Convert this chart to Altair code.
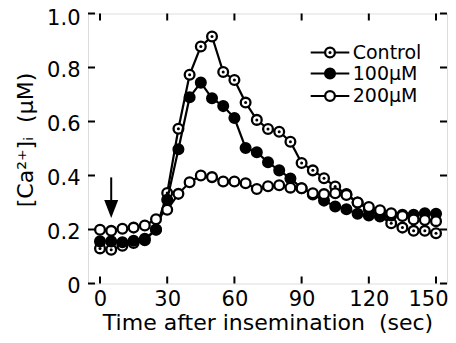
import altair as alt
import pandas as pd

# ---- data ----
time_s = list(range(0, 155, 5))
control = [0.130, 0.125, 0.140, 0.150, 0.160, 0.200, 0.335, 0.573, 0.773, 0.878,
           0.915, 0.783, 0.754, 0.670, 0.606, 0.572, 0.562, 0.525, 0.446, 0.419,
           0.390, 0.359, 0.331, 0.300, 0.275, 0.250, 0.223, 0.207, 0.195, 0.195, 0.186]
um100 = [0.156, 0.156, 0.153, 0.158, 0.166, 0.199, 0.310, 0.497, 0.690, 0.744,
         0.686, 0.657, 0.613, 0.502, 0.486, 0.449, 0.419, 0.389, 0.353, 0.330,
         0.307, 0.285, 0.275, 0.258, 0.252, 0.248, 0.252, 0.255, 0.255, 0.260, 0.258]
um200 = [0.199, 0.195, 0.203, 0.207, 0.215, 0.238, 0.273, 0.332, 0.375, 0.400,
         0.394, 0.378, 0.378, 0.371, 0.350, 0.360, 0.364, 0.355, 0.353, 0.334,
         0.331, 0.334, 0.328, 0.300, 0.283, 0.271, 0.260, 0.250, 0.237, 0.235, 0.231]
series_names = ["Control", "100\u03bcM", "200\u03bcM"]
x_ticks = [0, 30, 60, 90, 120, 150]
y_ticks = [0, 0.2, 0.4, 0.6, 0.8, 1.0]
arrow_time = [5]
arrow_top = [0.393]
arrow_shaft_end = [0.30]
arrow_head = [0.276]

FONT = "DejaVu Sans"
W, H = 359, 270

df = pd.DataFrame({"t": time_s, "control": control, "m100": um100, "m200": um200})

xs = alt.Scale(domain=[-5.36, 154.9], nice=False, zero=False)
ys = alt.Scale(domain=[0, 1], nice=False, zero=False)

xaxis = alt.Axis(values=x_ticks, ticks=False, domain=False, grid=False,
                 labelFont=FONT, labelFontSize=21, labelColor="black",
                 labelPadding=5, labelFlush=False,
                 labelOffset={"condition": {"test": "datum.value === 150", "value": -8},
                              "value": 0},
                 title="Time after insemination\u00a0 (sec)", titleFont=FONT,
                 titleFontSize=22, titleFontWeight="normal", titleColor="black",
                 titlePadding=3)
yaxis = alt.Axis(values=y_ticks, ticks=False, domain=False, grid=False,
                 labelFont=FONT, labelFontSize=21, labelColor="black",
                 labelPadding=8, labelFlush=False,
                 labelOffset={"condition": {"test": "datum.value === 1", "value": 5},
                              "value": 2.5},
                 labelExpr="datum.value == 0 ? '0' : format(datum.value, '.1f')",
                 title="[Ca\u00b2\u207a]\u1d62 \u00a0(\u03bcM)", titleFont=FONT,
                 titleFontSize=22, titleFontWeight="normal", titleColor="black",
                 titlePadding=9, titleY=126)

X = alt.X("t:Q", scale=xs, axis=xaxis)


def Y(field):
    return alt.Y(f"{field}:Q", scale=ys, axis=yaxis)


base = alt.Chart(df)
layers = []
SW = 2.3
SZ = 95


def add_series(field, fill, dot):
    layers.append(base.mark_line(color="black", strokeWidth=2.2).encode(x=X, y=Y(field)))
    layers.append(base.mark_point(shape="circle", filled=True, fill=fill, stroke="black",
                                  strokeWidth=SW, size=SZ, opacity=1).encode(x=X, y=Y(field)))
    if dot:
        layers.append(base.mark_point(shape="circle", filled=True, fill="black",
                                      strokeWidth=0, size=9, opacity=1).encode(x=X, y=Y(field)))


add_series("control", "white", True)
add_series("m100", "black", False)
add_series("m200", "white", False)

# inward ticks on all four sides
xt = alt.Chart(pd.DataFrame({"v": x_ticks}))
yt = alt.Chart(pd.DataFrame({"v": y_ticks}))
tick_style = dict(color="black", strokeWidth=2)
layers.append(xt.mark_rule(**tick_style).encode(x=alt.X("v:Q", scale=xs, axis=xaxis),
                                                 y=alt.value(H), y2=alt.value(H - 7)))
layers.append(xt.mark_rule(**tick_style).encode(x=alt.X("v:Q", scale=xs, axis=xaxis),
                                                 y=alt.value(0), y2=alt.value(7)))
layers.append(yt.mark_rule(**tick_style).encode(y=alt.Y("v:Q", scale=ys, axis=yaxis),
                                                 x=alt.value(0), x2=alt.value(7)))
layers.append(yt.mark_rule(**tick_style).encode(y=alt.Y("v:Q", scale=ys, axis=yaxis),
                                                 x=alt.value(W - 7), x2=alt.value(W)))

# arrow
adf = pd.DataFrame({"t": arrow_time, "top": arrow_top, "end": arrow_shaft_end, "head": arrow_head})
ab = alt.Chart(adf)
layers.append(ab.mark_rule(color="black", strokeWidth=2).encode(
    x=alt.X("t:Q", scale=xs, axis=xaxis), y=alt.Y("top:Q", scale=ys, axis=yaxis), y2="end:Q"))
layers.append(ab.mark_point(shape="M -1 -1.3 L 1 -1.3 L 0 1.3 Z", filled=True, fill="black",
                            strokeWidth=0, size=196, opacity=1).encode(
    x=alt.X("t:Q", scale=xs, axis=xaxis), y=alt.Y("head:Q", scale=ys, axis=yaxis)))

# custom legend
row_y = [39, 60, 82.5]
fills = ["white", "black", "white"]
dots = [True, False, False]
for name, yy, fill, dot in zip(series_names, row_y, fills, dots):
    src = alt.Chart(pd.DataFrame({"label": [name]}))
    layers.append(src.mark_rule(color="black", strokeWidth=2).encode(
        x=alt.value(222.7), x2=alt.value(261.3), y=alt.value(yy)))
    layers.append(src.mark_point(shape="circle", filled=True, fill=fill, stroke="black",
                                 strokeWidth=SW, size=SZ, opacity=1).encode(
        x=alt.value(242), y=alt.value(yy)))
    if dot:
        layers.append(src.mark_point(shape="circle", filled=True, fill="black",
                                     strokeWidth=0, size=9, opacity=1).encode(
            x=alt.value(242), y=alt.value(yy)))
    layers.append(src.mark_text(align="left", baseline="middle", font=FONT, fontSize=19,
                                color="black").encode(
        x=alt.value(264.7), y=alt.value(yy), text="label:N"))

chart = alt.layer(*layers).properties(
    width=W, height=H,
    padding={"left": 80, "top": 5.5, "right": 1, "bottom": 51.5},
    autosize=alt.AutoSizeParams(type="none"),
).configure_view(stroke="black", strokeWidth=2).configure(background="white")

chart.save("out.html", embed_options={"renderer": "svg", "actions": False})
